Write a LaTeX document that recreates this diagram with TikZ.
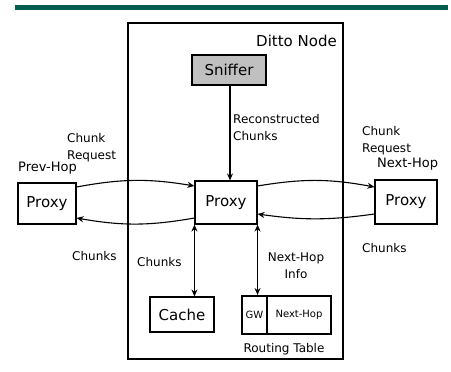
\documentclass[tikz,border=0pt]{standalone}
\usepackage{fontspec}
\setmainfont{DejaVu Sans}
\usetikzlibrary{arrows.meta,calc}
\definecolor{bargreen}{RGB}{0,94,80}
\definecolor{sniffgray}{RGB}{192,192,192}
\tikzset{
  box/.style={draw, line width=1.1pt, inner sep=0pt, font=\fontsize{15}{18}\selectfont},
  lbl/.style={inner sep=0pt, font=\fontsize{12}{17}\selectfont, align=left},
  hop/.style={inner sep=0pt, font=\fontsize{13}{16}\selectfont},
  flow/.style={line width=1.1pt, -{Stealth[length=7pt,width=6pt]}},
  both/.style={line width=1.1pt, {Stealth[length=7pt,width=6pt]}-{Stealth[length=7pt,width=6pt]}}
}
\begin{document}
\begin{tikzpicture}[x=1pt,y=-1pt]
\useasboundingbox (0,0) rectangle (451,372);
% header rule
\fill[bargreen] (15,5) rectangle (448,10);
% node frame
\draw[line width=1.1pt] (128,23) rectangle (343,359);
\node[anchor=east, inner sep=0pt, font=\fontsize{15}{18}\selectfont] (title) at (337,41) {Ditto Node};
% boxes
\node[box, fill=sniffgray, line width=1.4pt, minimum width=74pt, minimum height=30pt] (snf) at (229,70) {Sniffer};
\node[box, minimum width=58pt, minimum height=41pt] (lp) at (47,203.5) {Proxy};
\node[box, minimum width=62pt, minimum height=43pt] (mp) at (226,202.5) {Proxy};
\node[box, minimum width=62pt, minimum height=44pt] (rp) at (406,202) {Proxy};
\node[box, minimum width=64pt, minimum height=35pt] (cache) at (182,314.5) {Cache};
\node[draw, line width=2pt, inner sep=0pt, minimum width=89pt, minimum height=38pt] (rt) at (286.5,315) {};
\coordinate (rtdivtop) at (267,296);
\coordinate (rtdivbot) at (267,334);
\draw[line width=1.1pt] (rtdivtop) -- (rtdivbot);
\node[inner sep=0pt, font=\fontsize{10}{12}\selectfont] (gw) at (254.5,315) {GW};
\node[inner sep=0pt, font=\fontsize{10}{12}\selectfont] (nh) at (299,315) {Next-Hop};
\node[lbl] (rtl) at (284,349) {Routing Table};
% hop names
\node[hop, anchor=west] (prev) at (18,168) {Prev-Hop};
\node[hop, anchor=west] (next) at (377,164) {Next-Hop};
% labels
\node[lbl, anchor=west] (req1) at (67,147.5) {Chunk\\Request};
\node[lbl, anchor=west] (req2) at (362,140.5) {Chunk\\Request};
\node[lbl, anchor=west] (ch1) at (72,256) {Chunks};
\node[lbl, anchor=west] (ch2) at (137,262) {Chunks};
\node[lbl, anchor=west] (ch3) at (362,248) {Chunks};
\node[lbl, anchor=west] (rec) at (233,128) {Reconstructed\\Chunks};
\node[lbl, align=center] (info) at (296,266) {Next-Hop\\Info};
% connectors
\draw[flow] (snf.south -| 230,0) -- (mp.north -| 230,0);
\draw[flow] ([yshift=16.5pt]lp.east) to[bend left=10] ([yshift=16.5pt]mp.west);
\draw[flow] ([yshift=-15.5pt]mp.west) to[bend left=10] ([yshift=-14.5pt]lp.east);
\draw[flow] ([yshift=16.5pt]mp.east) to[bend left=10] ([yshift=15pt]rp.west);
\draw[flow] ([yshift=-12pt]rp.west) to[bend left=8] ([yshift=-11.5pt]mp.east);
\draw[both] (mp.south west) -- (mp.south west |- cache.north);
\draw[both] (mp.south east) -- (mp.south east |- rt.north);
\end{tikzpicture}
\end{document}
